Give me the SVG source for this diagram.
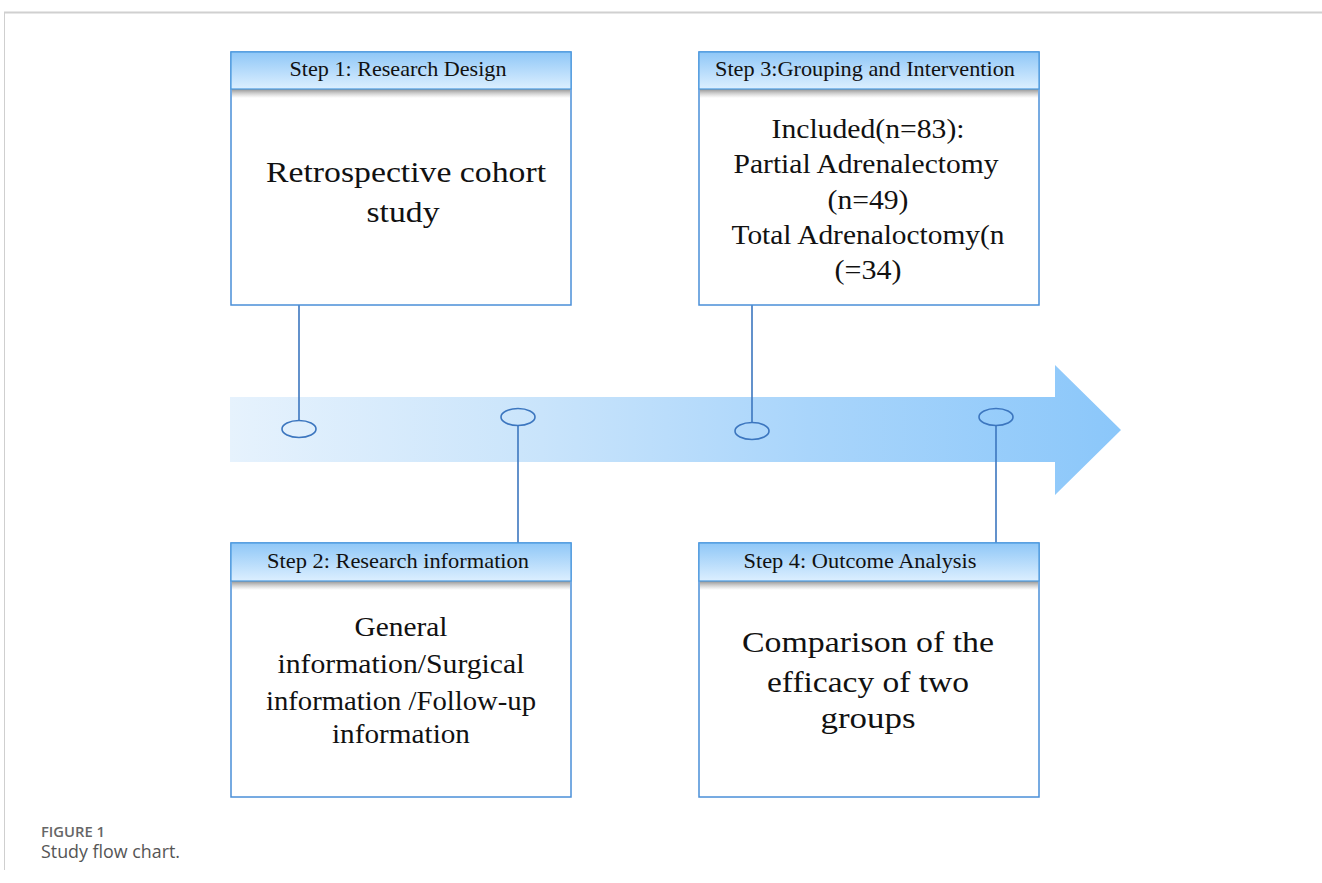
<svg xmlns="http://www.w3.org/2000/svg" width="1322" height="883" viewBox="0 0 1322 883">
<defs>
<linearGradient id="band" x1="0" y1="0" x2="1" y2="0">
<stop offset="0" stop-color="#e6f2fd"/>
<stop offset="0.35" stop-color="#c9e4fb"/>
<stop offset="0.65" stop-color="#a9d5fb"/>
<stop offset="1" stop-color="#8bc7fa"/>
</linearGradient>
<linearGradient id="hdr" x1="0" y1="0" x2="0" y2="1">
<stop offset="0" stop-color="#8fc7f7"/>
<stop offset="1" stop-color="#dcefff"/>
</linearGradient>
<linearGradient id="shadow" x1="0" y1="0" x2="0" y2="1">
<stop offset="0" stop-color="#6e6e6e" stop-opacity="0.75"/>
<stop offset="1" stop-color="#9a9a9a" stop-opacity="0"/>
</linearGradient>
</defs>
<style>
.box{fill:#ffffff;stroke:#4a8fd8;stroke-width:1.5}
.hdr{fill:url(#hdr);stroke:#4a9ae0;stroke-width:1.2}
.sh{fill:url(#shadow)}
.ht{font-family:"Liberation Serif","Times New Roman",serif;font-size:21px;fill:#111;text-anchor:middle}
.bt{font-family:"Liberation Serif","Times New Roman",serif;font-size:29px;fill:#111;text-anchor:middle}
.bs{font-size:27px}
.conn{stroke:#3c76bf;stroke-width:1.6;fill:none}
.dot{stroke:#3c76bf;stroke-width:1.6;fill:none}
.cap1{font-family:"Open Sans","Noto Sans",sans-serif;font-size:14px;font-weight:600;fill:#666}
.cap2{font-family:"Open Sans","Noto Sans",sans-serif;font-size:17.5px;fill:#555}
</style>
<rect x="0" y="0" width="1322" height="883" fill="#ffffff"/>
<line x1="4" y1="12.5" x2="1322" y2="12.5" stroke="#d0d0d0" stroke-width="2"/>
<line x1="4.5" y1="12" x2="4.5" y2="870" stroke="#cfcfcf" stroke-width="1"/>

<g id="timeline">
<path d="M230,397 H1055 V365 L1121,430 L1055,495 V462 H230 Z" fill="url(#band)"/>
</g>

<g id="connectors">
<line class="conn" x1="299" y1="305" x2="299" y2="420"/>
<ellipse class="dot" cx="299" cy="429" rx="17" ry="8.5"/>
<line class="conn" x1="518" y1="426" x2="518" y2="543"/>
<ellipse class="dot" cx="518" cy="417" rx="17" ry="8.5"/>
<line class="conn" x1="752" y1="305" x2="752" y2="422"/>
<ellipse class="dot" cx="752" cy="431" rx="17" ry="8.5"/>
<line class="conn" x1="996" y1="426" x2="996" y2="543"/>
<ellipse class="dot" cx="996" cy="417" rx="17" ry="8.5"/>
</g>

<g id="step1">
<rect class="box" x="231" y="52" width="340" height="253"/>
<rect class="sh" x="232" y="89" width="338" height="9"/>
<rect class="hdr" x="231" y="52" width="340" height="37"/>
<text class="ht" x="398" y="76" textLength="217" lengthAdjust="spacingAndGlyphs">Step 1: Research Design</text>
<text class="bt" x="406" y="182" textLength="280" lengthAdjust="spacingAndGlyphs">Retrospective cohort</text>
<text class="bt" x="403" y="222" textLength="73" lengthAdjust="spacingAndGlyphs">study</text>
</g>

<g id="step3">
<rect class="box" x="699" y="52" width="340" height="253"/>
<rect class="sh" x="700" y="89" width="338" height="9"/>
<rect class="hdr" x="699" y="52" width="340" height="37"/>
<text class="ht" x="865" y="76" textLength="300" lengthAdjust="spacingAndGlyphs">Step 3:Grouping and Intervention</text>
<text class="bt bs" x="868" y="138" textLength="193" lengthAdjust="spacingAndGlyphs">Included(n=83):</text>
<text class="bt bs" x="866" y="173" textLength="265" lengthAdjust="spacingAndGlyphs">Partial Adrenalectomy</text>
<text class="bt bs" x="868" y="209" textLength="81" lengthAdjust="spacingAndGlyphs">(n=49)</text>
<text class="bt bs" x="868" y="244" textLength="273" lengthAdjust="spacingAndGlyphs">Total Adrenaloctomy(n</text>
<text class="bt bs" x="868" y="279" textLength="67" lengthAdjust="spacingAndGlyphs">(=34)</text>
</g>

<g id="step2">
<rect class="box" x="231" y="543" width="340" height="254"/>
<rect class="sh" x="232" y="581" width="338" height="9"/>
<rect class="hdr" x="231" y="543" width="340" height="38"/>
<text class="ht" x="398" y="568" textLength="262" lengthAdjust="spacingAndGlyphs">Step 2: Research information</text>
<text class="bt bs" x="401" y="636" textLength="93" lengthAdjust="spacingAndGlyphs">General</text>
<text class="bt bs" x="401" y="673" textLength="247" lengthAdjust="spacingAndGlyphs">information/Surgical</text>
<text class="bt bs" x="401" y="710" textLength="270" lengthAdjust="spacingAndGlyphs">information /Follow-up</text>
<text class="bt bs" x="401" y="743" textLength="138" lengthAdjust="spacingAndGlyphs">information</text>
</g>

<g id="step4">
<rect class="box" x="699" y="543" width="340" height="254"/>
<rect class="sh" x="700" y="581" width="338" height="9"/>
<rect class="hdr" x="699" y="543" width="340" height="38"/>
<text class="ht" x="860" y="568" textLength="233" lengthAdjust="spacingAndGlyphs">Step 4: Outcome Analysis</text>
<text class="bt" x="868" y="652" textLength="252" lengthAdjust="spacingAndGlyphs">Comparison of the</text>
<text class="bt" x="868" y="692" textLength="202" lengthAdjust="spacingAndGlyphs">efficacy of two</text>
<text class="bt" x="868" y="728" textLength="95" lengthAdjust="spacingAndGlyphs">groups</text>
</g>

<g id="caption">
<text class="cap1" x="41" y="837" textLength="64" lengthAdjust="spacingAndGlyphs">FIGURE 1</text>
<text class="cap2" x="41" y="858" textLength="139" lengthAdjust="spacingAndGlyphs">Study flow chart.</text>
</g>
</svg>
